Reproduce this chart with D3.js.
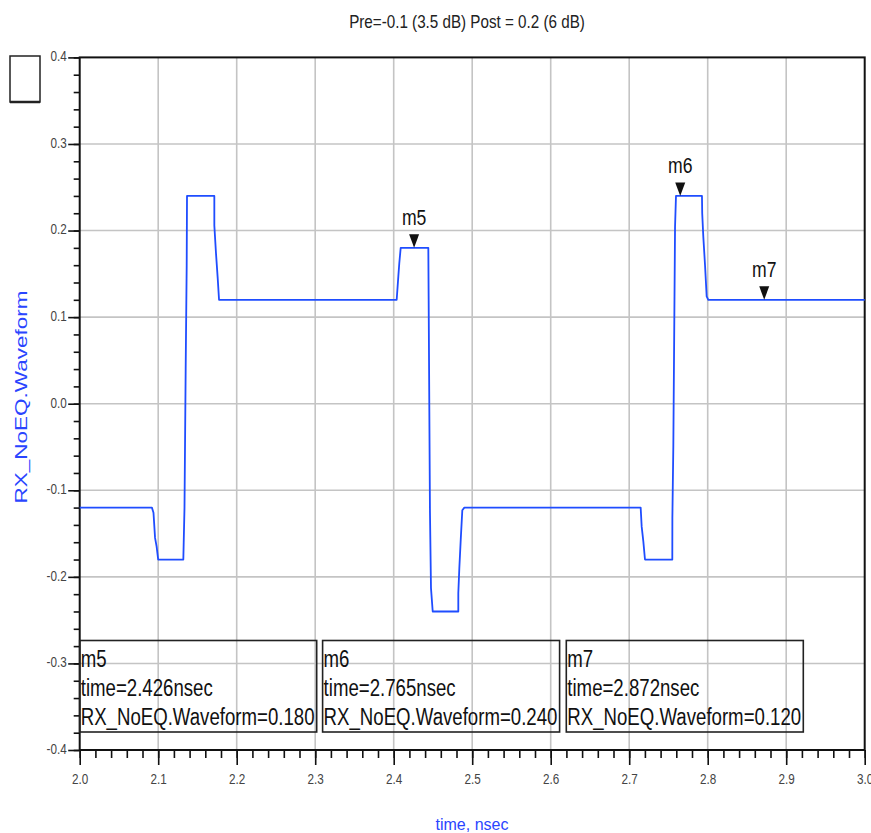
<!DOCTYPE html>
<html>
<head>
<meta charset="utf-8">
<script src="https://cdn.jsdelivr.net/npm/d3@7"></script>
<style>
  body { margin: 0; background: #fff; }
  svg { display: block; }
  text { font-family: "Liberation Sans", Arial, sans-serif; }
</style>
</head>
<body>
<div id="chart"></div>
<script>
var titleText = "Pre=-0.1 (3.5 dB) Post = 0.2 (6 dB)";
var xLabel = "time, nsec";
var yLabel = "RX_NoEQ.Waveform";

var xTicks = [2.0, 2.1, 2.2, 2.3, 2.4, 2.5, 2.6, 2.7, 2.8, 2.9, 3.0];
var xTickLabels = ["2.0", "2.1", "2.2", "2.3", "2.4", "2.5", "2.6", "2.7", "2.8", "2.9", "3.0"];
var yTicks = [0.4, 0.3, 0.2, 0.1, 0.0, -0.1, -0.2, -0.3, -0.4];
var yTickLabels = ["0.4", "0.3", "0.2", "0.1", "0.0", "-0.1", "-0.2", "-0.3", "-0.4"];

// waveform samples (time in nsec, value)
var waveT = [2.000, 2.092, 2.094, 2.096, 2.098, 2.100, 2.132, 2.1325, 2.1335, 2.1350, 2.1363, 2.1367,
             2.1715, 2.1715, 2.1736, 2.1758, 2.1775, 2.4038, 2.4059, 2.4071, 2.4089, 2.4441, 2.4445,
             2.4462, 2.4475, 2.4497, 2.4823, 2.4823, 2.4836, 2.4854, 2.4874, 2.4900, 2.7146, 2.7159,
             2.7180, 2.7201, 2.7549, 2.7550, 2.7562, 2.7584, 2.7596, 2.7927, 2.7930, 2.7944, 2.7966,
             2.7987, 2.8008, 3.000];
var waveV = [-0.120, -0.120, -0.126, -0.155, -0.165, -0.180, -0.180, -0.160, -0.120, 0.040, 0.160, 0.240,
             0.240, 0.206, 0.174, 0.145, 0.120, 0.120, 0.147, 0.162, 0.180, 0.180, 0.124,
             -0.125, -0.213, -0.240, -0.240, -0.219, -0.190, -0.157, -0.123, -0.120, -0.120, -0.142,
             -0.159, -0.180, -0.180, -0.132, -0.050, 0.204, 0.240, 0.240, 0.220, 0.193, 0.160,
             0.124, 0.120, 0.120];

var markerNames = ["m5", "m6", "m7"];
var markerTimes = [2.426, 2.765, 2.872];
var markerValues = [0.180, 0.240, 0.120];

var width = 871, height = 833;
var margin = {top: 57.4, right: 6.3, bottom: 83, left: 79.7};

var x = d3.scaleLinear().domain([2, 3]).range([margin.left, width - margin.right]);
var y = d3.scaleLinear().domain([-0.4, 0.4]).range([height - margin.bottom, margin.top]);

var svg = d3.select("#chart").append("svg")
    .attr("width", width)
    .attr("height", height);

// no narrow font installed: squeeze glyphs horizontally instead
function narrow(sel, k) {
    sel.each(function() {
        var w = this.getComputedTextLength();
        d3.select(this).attr("textLength", w * (k || 0.8)).attr("lengthAdjust", "spacingAndGlyphs");
    });
}

// title
svg.append("text")
    .attr("x", 467)
    .attr("y", 28.3)
    .attr("text-anchor", "middle")
    .style("font-size", "19px")
    .style("fill", "#222")
    .text(titleText)
    .call(narrow, 0.8);

// small empty legend box top-left
svg.append("rect")
    .attr("x", 10).attr("y", 56)
    .attr("width", 30).attr("height", 46)
    .style("fill", "none")
    .style("stroke", "#222")
    .style("stroke-width", 1.5);
svg.append("line")
    .attr("x1", 10).attr("x2", 40)
    .attr("y1", 102).attr("y2", 102)
    .style("stroke", "#222")
    .style("stroke-width", 2.5);

// grid
var grid = svg.append("g");
grid.selectAll(".gx")
    .data(xTicks.slice(1, -1))
    .enter().append("line")
    .attr("x1", function(d) { return x(d); })
    .attr("x2", function(d) { return x(d); })
    .attr("y1", y(0.4)).attr("y2", y(-0.4))
    .style("stroke", "#c4c4c4")
    .style("stroke-width", 1.6);
grid.selectAll(".gy")
    .data(yTicks.slice(1, -1))
    .enter().append("line")
    .attr("y1", function(d) { return y(d); })
    .attr("y2", function(d) { return y(d); })
    .attr("x1", x(2)).attr("x2", x(3))
    .style("stroke", "#c4c4c4")
    .style("stroke-width", 1.6);

// axes
var xMinor = d3.range(0, 51).map(function(i) { return 2 + i * 0.02; });
var yMinor = d3.range(0, 41).map(function(i) { return -0.4 + i * 0.02; });

var xAxisMinor = d3.axisBottom(x).tickValues(xMinor).tickSize(8).tickFormat("").tickSizeOuter(0);
var xAxis = d3.axisBottom(x).tickValues(xTicks).tickSize(15).tickSizeOuter(0)
    .tickFormat(function(d, i) { return xTickLabels[i]; });
var yAxisMinor = d3.axisLeft(y).tickValues(yMinor).tickSize(6).tickFormat("").tickSizeOuter(0);
var yAxis = d3.axisLeft(y).tickValues(yTicks).tickSize(11.5).tickSizeOuter(0)
    .tickFormat(function(d, i) { return yTickLabels[i]; });

function styleAxis(g) {
    g.attr("font-family", null).attr("font-size", null);
    g.select(".domain").remove();
    g.selectAll("line").style("stroke", "#111").style("stroke-width", 1.6);
    g.selectAll("text").style("font-size", "15px").style("fill", "#444");
}

svg.append("g").attr("transform", "translate(0," + y(-0.4) + ")").call(xAxisMinor).call(styleAxis);
svg.append("g").attr("transform", "translate(0," + y(-0.4) + ")").call(xAxis).call(styleAxis)
    .selectAll("text").attr("y", 23).attr("dy", "0.71em").call(narrow, 0.78);
svg.append("g").attr("transform", "translate(" + x(2) + ",0)").call(yAxisMinor).call(styleAxis);
svg.append("g").attr("transform", "translate(" + x(2) + ",0)").call(yAxis).call(styleAxis)
    .selectAll("text").attr("x", -13).attr("dy", "0.22em").call(narrow, 0.78);

// frame
svg.append("rect")
    .attr("x", x(2)).attr("y", y(0.4))
    .attr("width", x(3) - x(2)).attr("height", y(-0.4) - y(0.4))
    .style("fill", "none")
    .style("stroke", "#111")
    .style("stroke-width", 2);

// waveform
var line = d3.line()
    .x(function(d) { return x(d[0]); })
    .y(function(d) { return y(d[1]); });

svg.append("path")
    .datum(d3.zip(waveT, waveV))
    .attr("d", line)
    .style("fill", "none")
    .style("stroke", "#1f4dff")
    .style("stroke-width", 1.8)
    .style("stroke-linejoin", "round");

// markers
var markers = d3.zip(markerNames, markerTimes, markerValues);

var mk = svg.selectAll(".marker")
    .data(markers)
    .enter().append("g")
    .attr("class", "marker")
    .attr("transform", function(d) { return "translate(" + x(d[1]) + "," + y(d[2]) + ")"; });

mk.append("path")
    .attr("d", "M-5,-13.5L5,-13.5L0,0Z")
    .style("fill", "#111");

mk.append("text")
    .attr("y", -22.5)
    .attr("text-anchor", "middle")
    .style("font-size", "22px")
    .style("fill", "#111")
    .text(function(d) { return d[0]; })
    .call(narrow, 0.8);

// marker readout boxes
var boxX = [79.7, 322.6, 566.3];
var boxes = svg.selectAll(".readout")
    .data(markers)
    .enter().append("g")
    .attr("class", "readout")
    .attr("transform", function(d, i) { return "translate(" + boxX[i] + ",640.5)"; });

boxes.append("rect")
    .attr("width", 237).attr("height", 91.5)
    .style("fill", "none")
    .style("stroke", "#222")
    .style("stroke-width", 1.6);

boxes.each(function(d) {
    var lines = [d[0], "time=" + d3.format(".3f")(d[1]) + "nsec", yLabel + "=" + d3.format(".3f")(d[2])];
    d3.select(this).selectAll("text")
        .data(lines)
        .enter().append("text")
        .attr("x", 1)
        .attr("y", function(t, i) { return 26 + i * 29.2; })
        .style("font-size", "23px")
        .style("fill", "#111")
        .text(function(t) { return t; })
        .call(narrow, 0.81);
});

// axis labels
svg.append("text")
    .attr("x", 472)
    .attr("y", 830)
    .attr("text-anchor", "middle")
    .style("font-size", "16px")
    .style("fill", "#2a45ff")
    .text(xLabel);

svg.append("text")
    .attr("transform", "translate(27,397) rotate(-90)")
    .attr("text-anchor", "middle")
    .attr("textLength", 213)
    .attr("lengthAdjust", "spacingAndGlyphs")
    .style("font-size", "17px")
    .style("fill", "#2a45ff")
    .text(yLabel);
</script>
</body>
</html>
